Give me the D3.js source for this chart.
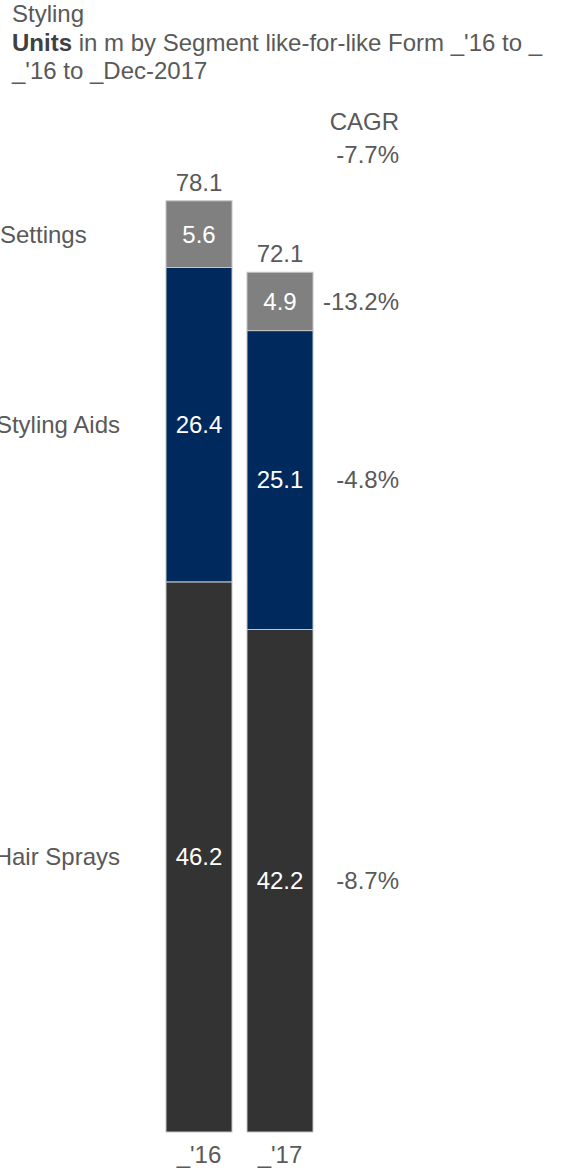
<!DOCTYPE html>
<html>
<head>
<meta charset="utf-8">
<script src="https://cdn.jsdelivr.net/npm/d3@7"></script>
<style>
  html, body { margin: 0; padding: 0; background: #fff; }
  svg { display: block; font-family: "Liberation Sans", Arial, sans-serif; }
</style>
</head>
<body>
<svg id="chart" width="562" height="1172"></svg>
<script>
// Period categories (x axis)
const periods = ["_'16", "_'17"];
// Segments, stacked bottom to top
const segments = ["Hair Sprays", "Styling Aids", "Settings"];
// Units in m per segment, per period
const hairSprays  = [46.2, 42.2];
const stylingAids = [26.4, 25.1];
const settings    = [5.6, 4.9];
// Bar totals shown above each bar
const totals = [78.1, 72.1];
// CAGR per segment (aligned with segments) and overall
const cagrBySegment = ["-8.7%", "-4.8%", "-13.2%"];
const cagrTotal = "-7.7%";

const colors = { "Hair Sprays": "#333333", "Styling Aids": "#00295d", "Settings": "#808080" };
const textColor = "#595959";
const fs = 24;

const svg = d3.select("#chart");

// Title block
const title = svg.append("g").attr("fill", textColor).attr("font-size", fs);
title.append("text").attr("x", 12).attr("y", 22).text("Styling");
const sub = title.append("text").attr("x", 12).attr("y", 51);
sub.append("tspan").attr("font-weight", "bold").attr("fill", "#404040").text("Units");
sub.append("tspan").text(" in m by Segment like-for-like Form _'16 to _");
title.append("text").attr("x", 12).attr("y", 79).text("_'16 to _Dec-2017");

// Build stacked data
const rows = periods.map((p, i) => ({
  period: p,
  "Hair Sprays": hairSprays[i],
  "Styling Aids": stylingAids[i],
  "Settings": settings[i]
}));
const stacked = d3.stack().keys(segments)(rows);

const x = d3.scaleBand().domain(periods).range([166, 313]).paddingInner(15 / 81).paddingOuter(0);
const y = d3.scaleLinear().domain([0, 78.1]).range([1132, 202]);

const bars = svg.append("g");
stacked.forEach(layer => {
  const g = bars.append("g").attr("fill", colors[layer.key]);
  g.selectAll("rect").data(layer).join("rect")
    .attr("x", d => x(d.data.period))
    .attr("y", d => y(d[1]))
    .attr("width", x.bandwidth())
    .attr("height", d => y(d[0]) - y(d[1]))
    .attr("stroke", "#c4c4c4")
    .attr("stroke-width", 1);
});

// Values inside segments
stacked.forEach(layer => {
  svg.append("g").selectAll("text").data(layer).join("text")
    .attr("x", d => x(d.data.period) + x.bandwidth() / 2)
    .attr("y", d => (y(d[0]) + y(d[1])) / 2)
    .attr("dy", "0.35em")
    .attr("text-anchor", "middle")
    .attr("fill", "#ffffff")
    .attr("font-size", fs)
    .text(d => d3.format(".1f")(d[1] - d[0]));
});

// Totals above bars
svg.append("g").selectAll("text").data(periods).join("text")
  .attr("x", p => x(p) + x.bandwidth() / 2)
  .attr("y", (p, i) => y(totals[i]) - 11)
  .attr("text-anchor", "middle")
  .attr("fill", textColor)
  .attr("font-size", fs)
  .text((p, i) => d3.format(".1f")(totals[i]));

// Segment names at left, centred on the first bar's segments;
// long names are right-aligned to the label column and may run off the edge
const labelRight = 120;
svg.append("g").selectAll("text").data(stacked).join("text")
  .attr("y", l => (y(l[0][0]) + y(l[0][1])) / 2)
  .attr("dy", "0.35em")
  .attr("fill", textColor)
  .attr("font-size", fs)
  .text(l => l.key)
  .attr("x", function() {
    const w = this.getComputedTextLength();
    return w > labelRight - 10 ? labelRight - w : 0;
  });

// CAGR column at right, centred on the last bar's segments
const rightX = 399;
const last = periods.length - 1;
svg.append("g").selectAll("text").data(stacked).join("text")
  .attr("x", rightX)
  .attr("y", l => (y(l[last][0]) + y(l[last][1])) / 2)
  .attr("dy", "0.35em")
  .attr("text-anchor", "end")
  .attr("fill", textColor)
  .attr("font-size", fs)
  .text((l, i) => cagrBySegment[i]);

svg.append("text").attr("x", rightX).attr("y", 130).attr("text-anchor", "end")
  .attr("fill", textColor).attr("font-size", fs).text("CAGR");
svg.append("text").attr("x", rightX).attr("y", 163).attr("text-anchor", "end")
  .attr("fill", textColor).attr("font-size", fs).text(cagrTotal);

// X axis labels
const xAxis = d3.axisBottom(x).tickSize(0).tickPadding(0);
svg.append("g").attr("transform", "translate(0,1146)").call(xAxis)
  .call(g => g.select(".domain").remove())
  .call(g => g.selectAll("text").attr("font-size", fs).attr("fill", textColor)
    .attr("font-family", "Liberation Sans, Arial, sans-serif"));
</script>
</body>
</html>
